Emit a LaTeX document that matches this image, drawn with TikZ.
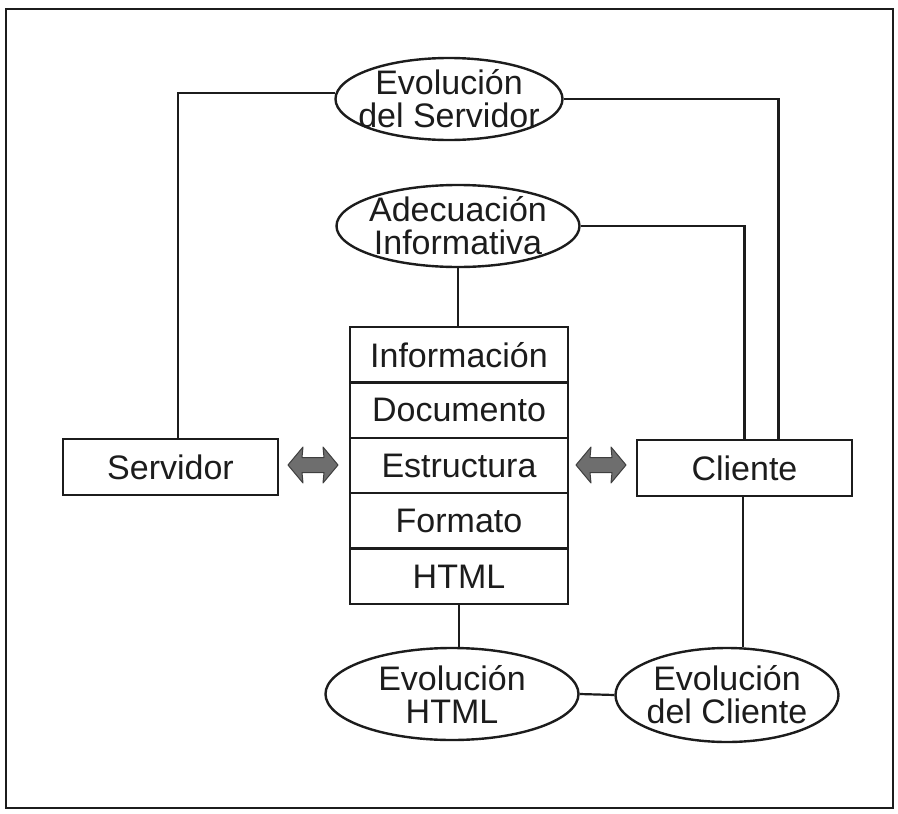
\documentclass[tikz,border=0pt]{standalone}
\usepackage{fontspec}
\setmainfont{Liberation Sans}
\usetikzlibrary{shapes.geometric}
\definecolor{ink}{HTML}{1C1C1C}
\definecolor{arrowgray}{HTML}{6E6E6E}
\tikzset{
  txt/.style={font=\fontsize{34}{33}\selectfont, text=ink, align=center, inner sep=0pt},
  oval/.style={ellipse, draw=ink, line width=2.4pt, inner sep=0pt},
  boxnode/.style={draw=ink, line width=2.4pt, inner sep=0pt, minimum width=215pt, minimum height=56pt, font=\fontsize{34}{33}\selectfont, text=ink},
  cell/.style={draw=ink, line width=2.4pt, inner sep=0pt, minimum width=218pt, minimum height=55.4pt, font=\fontsize{34}{33}\selectfont, text=ink},
  link/.style={draw=ink, line width=2.2pt},
  blockarrow/.style={fill=arrowgray, draw=ink!85, line width=1pt, line join=round},
  dblarrow/.pic={\filldraw[blockarrow] (-25,0) -- (-10,-18) -- (-11,-7.5) -- (11,-7.5) -- (10,-18) -- (25,0) -- (10,18) -- (11,7.5) -- (-11,7.5) -- (-10,18) -- cycle;}
}
\begin{document}
\begin{tikzpicture}[x=1pt,y=-1pt]
\useasboundingbox (0,0) rectangle (898,814);
\fill[white] (0,0) rectangle (898,814);
\draw[ink, line width=2.6pt] (6,9) rectangle (893,808);

% ellipses
\node[oval, minimum width=227pt, minimum height=82pt] (esrv) at (449,99) {};
\node[txt] (esrvt) at (esrv.center) {Evolución\\del Servidor};
\node[oval, minimum width=243pt, minimum height=82pt] (adec) at (458,226) {};
\node[txt] (adect) at (adec.center) {Adecuación\\Informativa};
\node[oval, minimum width=253pt, minimum height=92pt] (ehtml) at (452,694) {};
\node[txt] (ehtmlt) at (ehtml.center) {Evolución\\HTML};
\node[oval, minimum width=223pt, minimum height=94pt] (ecli) at (727,695) {};
\node[txt] (eclit) at (ecli.center) {Evolución\\del Cliente};

% table
\node[cell] (r1) at (459,354.7) {Información};
\node[cell] (r2) at (459,410.1) {Documento};
\node[cell] (r3) at (459,465.5) {Estructura};
\node[cell] (r4) at (459,520.9) {Formato};
\node[cell] (r5) at (459,576.3) {HTML};

% boxes
\node[boxnode] (srv) at (170.5,467) {Servidor};
\node[boxnode] (cli) at (744.5,468) {Cliente};

% block arrows
\pic (larrow) at (313,465) {dblarrow};
\pic (rarrow) at (601,465) {dblarrow};

% connectors
\draw[link] (esrv.177) -| ([xshift=7.5pt]srv.north);
\draw[link] (esrv.east) -| ([xshift=34pt]cli.north);
\draw[link] (adec.east) -| (cli.north);
\draw[link] (adec.south) -- (adec.south |- r1.north);
\draw[link] (r5.south) -- (r5.south |- ehtml.north);
\draw[link] (ehtml.east) -- (ecli.west);
\draw[link] ([xshift=-1.5pt]cli.south) -- ([xshift=-1.5pt]cli.south |- ecli.north);
\end{tikzpicture}
\end{document}
